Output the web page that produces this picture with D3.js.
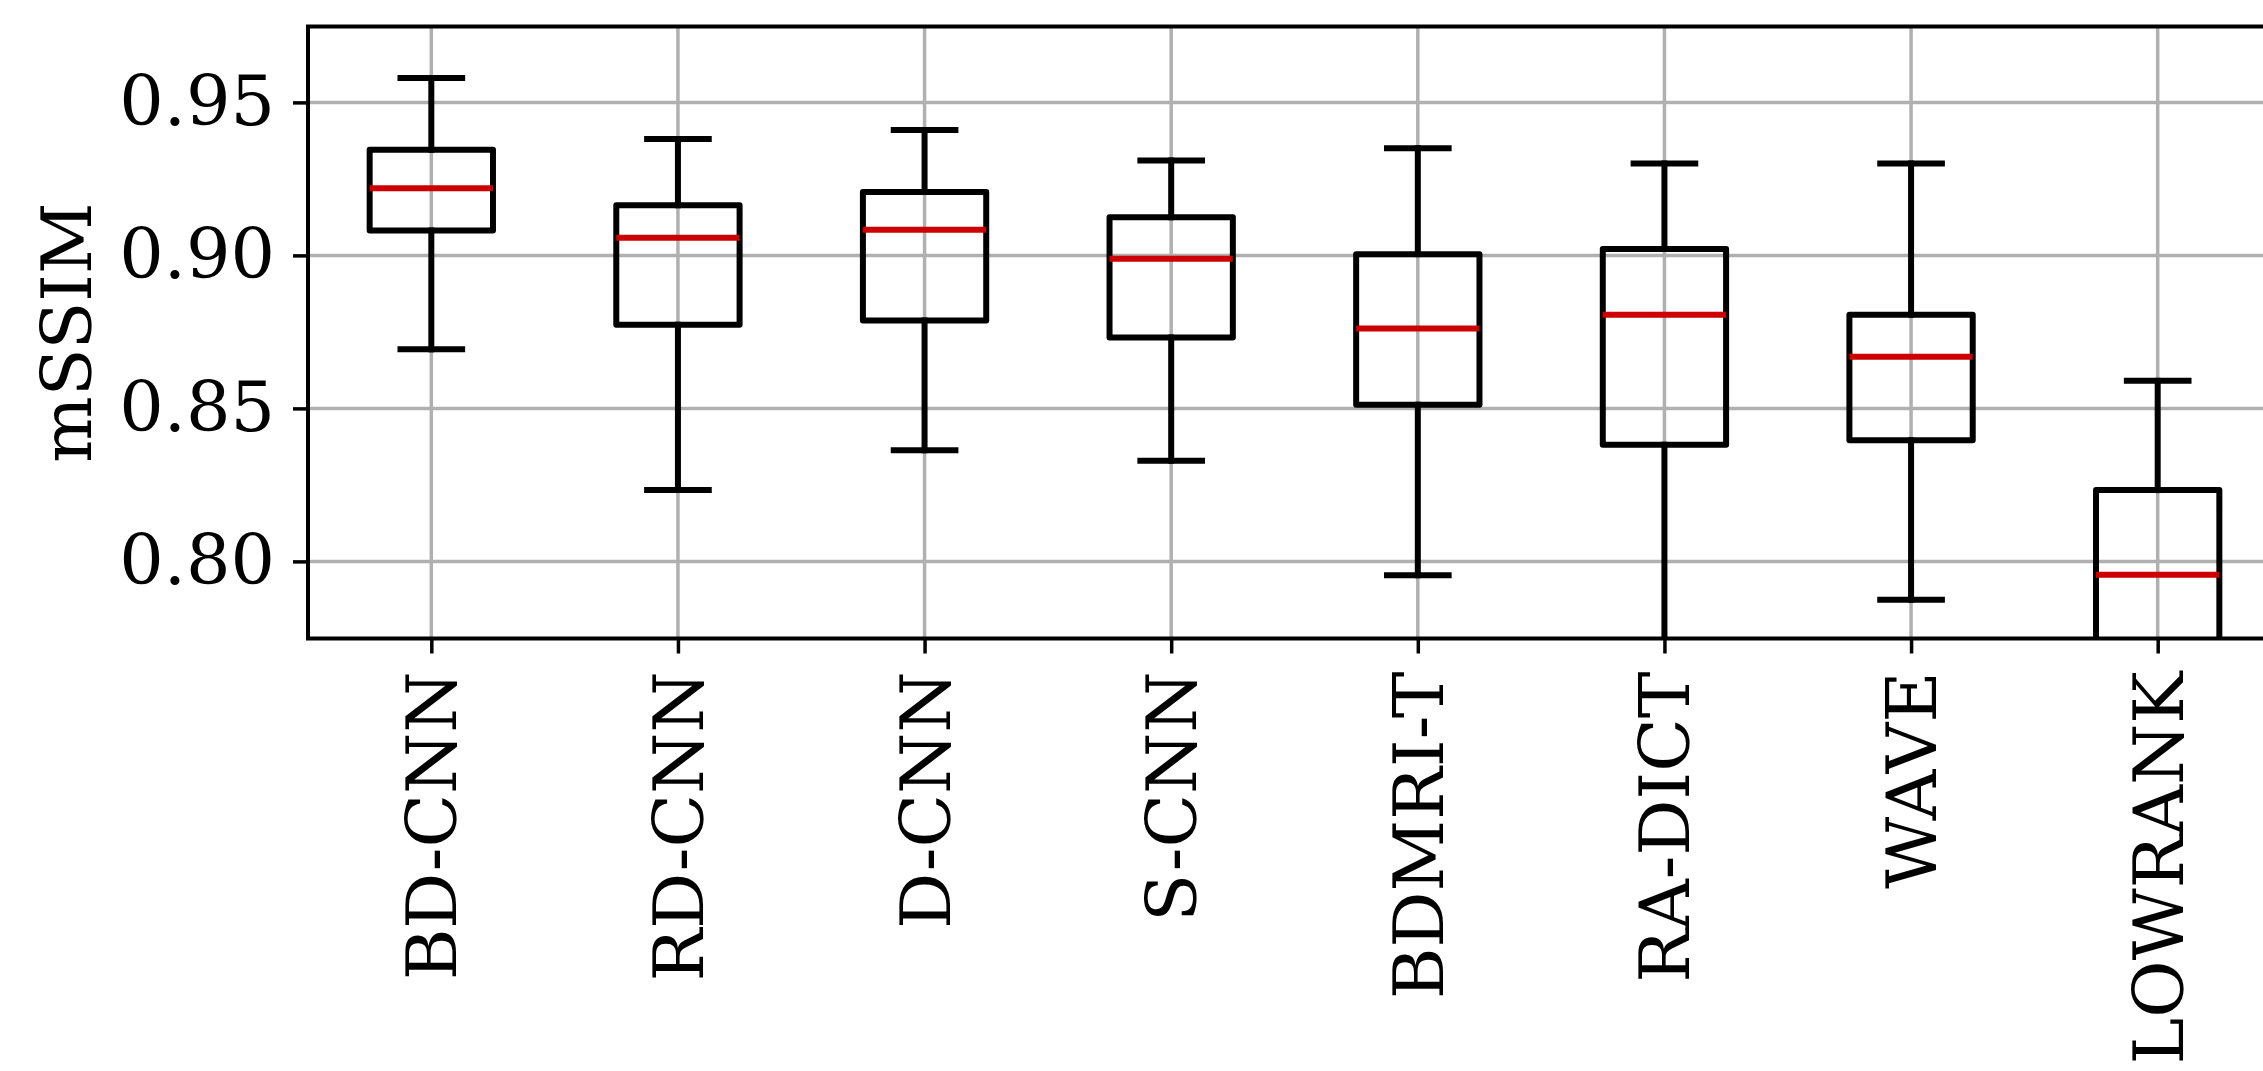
<!DOCTYPE html>
<html>
<head>
<meta charset="utf-8">
<script src="https://cdn.jsdelivr.net/npm/d3@7"></script>
<style>
  body { margin: 0; background: #fff; }
  svg { display: block; font-family: 'DejaVu Serif', serif; }
</style>
</head>
<body>
<svg id="svg" width="2263" height="1071"></svg>
<script>
const categories = ['BD-CNN', 'RD-CNN', 'D-CNN', 'S-CNN', 'BDMRI-T', 'RA-DICT', 'WAVE', 'LOWRANK'];
const whiskerHigh = [0.958, 0.938, 0.941, 0.931, 0.935, 0.930, 0.930, 0.859];
const q3 = [0.9345, 0.9164, 0.9207, 0.9125, 0.9004, 0.9021, 0.8806, 0.8233];
const medians = [0.9219, 0.9058, 0.9084, 0.8989, 0.8761, 0.8806, 0.8669, 0.7956];
const q1 = [0.9081, 0.8773, 0.8787, 0.8732, 0.8512, 0.8381, 0.8396, 0.765];
const whiskerLow = [0.8693, 0.8233, 0.8363, 0.8329, 0.7955, 0.760, 0.7875, 0.720];
const yTicks = [0.80, 0.85, 0.90, 0.95];

const svg = d3.select('svg');

// plot area (right edge runs past the page, as in the cropped original)
const plotL = 308, plotR = 2281, plotT = 26.5, plotB = 638.5;
const lw = 6;

const x = d3.scalePoint().domain(categories).range([plotL, plotR]).padding(0.5);
const y = d3.scaleLinear().domain([0.7748, 0.9748]).range([plotB, plotT]);
const step = x.step();
const boxW = step * 0.5;
const capW = step * 0.25;

svg.append('clipPath').attr('id', 'plot')
	.append('rect').attr('x', plotL).attr('y', plotT).attr('width', plotR - plotL).attr('height', plotB - plotT);

// grid
const grid = svg.append('g').attr('stroke', '#b0b0b0').attr('stroke-width', 3.5);
grid.selectAll('.gy').data(yTicks).enter().append('line')
	.attr('x1', plotL).attr('x2', plotR)
	.attr('y1', (d) => y(d)).attr('y2', (d) => y(d));
grid.selectAll('.gx').data(categories).enter().append('line')
	.attr('x1', (d) => x(d)).attr('x2', (d) => x(d))
	.attr('y1', plotT).attr('y2', plotB);

const data = categories.map((c, i) => ({
	name: c, hi: whiskerHigh[i], q3: q3[i], med: medians[i], q1: q1[i], lo: whiskerLow[i]
}));

const boxes = svg.append('g').attr('clip-path', 'url(#plot)')
	.selectAll('g').data(data).enter().append('g');

// whiskers
boxes.append('line')
	.attr('x1', (d) => x(d.name)).attr('x2', (d) => x(d.name))
	.attr('y1', (d) => y(d.q3)).attr('y2', (d) => y(d.hi))
	.attr('stroke', '#000').attr('stroke-width', lw).attr('stroke-linecap', 'square');
boxes.append('line')
	.attr('x1', (d) => x(d.name)).attr('x2', (d) => x(d.name))
	.attr('y1', (d) => y(d.q1)).attr('y2', (d) => y(d.lo))
	.attr('stroke', '#000').attr('stroke-width', lw).attr('stroke-linecap', 'square');
// caps
boxes.append('line')
	.attr('x1', (d) => x(d.name) - capW / 2).attr('x2', (d) => x(d.name) + capW / 2)
	.attr('y1', (d) => y(d.hi)).attr('y2', (d) => y(d.hi))
	.attr('stroke', '#000').attr('stroke-width', lw).attr('stroke-linecap', 'square');
boxes.append('line')
	.attr('x1', (d) => x(d.name) - capW / 2).attr('x2', (d) => x(d.name) + capW / 2)
	.attr('y1', (d) => y(d.lo)).attr('y2', (d) => y(d.lo))
	.attr('stroke', '#000').attr('stroke-width', lw).attr('stroke-linecap', 'square');
// box
boxes.append('rect')
	.attr('x', (d) => x(d.name) - boxW / 2).attr('width', boxW)
	.attr('y', (d) => y(d.q3)).attr('height', (d) => y(d.q1) - y(d.q3))
	.attr('fill', 'none').attr('stroke', '#000').attr('stroke-width', lw).attr('stroke-linejoin', 'round');
// median
boxes.append('line')
	.attr('x1', (d) => x(d.name) - boxW / 2).attr('x2', (d) => x(d.name) + boxW / 2)
	.attr('y1', (d) => y(d.med)).attr('y2', (d) => y(d.med))
	.attr('stroke', '#cc0000').attr('stroke-width', lw);

// axes
const yAxis = svg.append('g').attr('transform', `translate(${plotL},0)`)
	.call(d3.axisLeft(y).tickValues(yTicks).tickFormat(d3.format('.2f')).tickSize(15).tickPadding(18));
const xAxis = svg.append('g').attr('transform', `translate(0,${plotB})`)
	.call(d3.axisBottom(x).tickSize(15).tickPadding(20));

[yAxis, xAxis].forEach((a) => {
	a.select('.domain').remove();
	a.selectAll('.tick line').attr('stroke', '#000').attr('stroke-width', 3.5);
	a.selectAll('.tick text').attr('fill', '#000').style('font-size', '70px').style('font-family', "'DejaVu Serif', serif");
});

xAxis.selectAll('.tick text')
	.attr('transform', 'rotate(-90)')
	.attr('text-anchor', 'end')
	.attr('x', -33).attr('y', 0).attr('dy', '0.35em');

// spines (right one is off the page)
svg.append('rect')
	.attr('x', plotL).attr('y', plotT).attr('width', plotR - plotL).attr('height', plotB - plotT)
	.attr('fill', 'none').attr('stroke', '#000').attr('stroke-width', 4);

svg.append('text')
	.attr('transform', `translate(66,${(plotT + plotB) / 2}) rotate(-90)`)
	.attr('text-anchor', 'middle').attr('dy', '0.35em')
	.style('font-size', '70px')
	.text('mSSIM');
</script>
</body>
</html>
